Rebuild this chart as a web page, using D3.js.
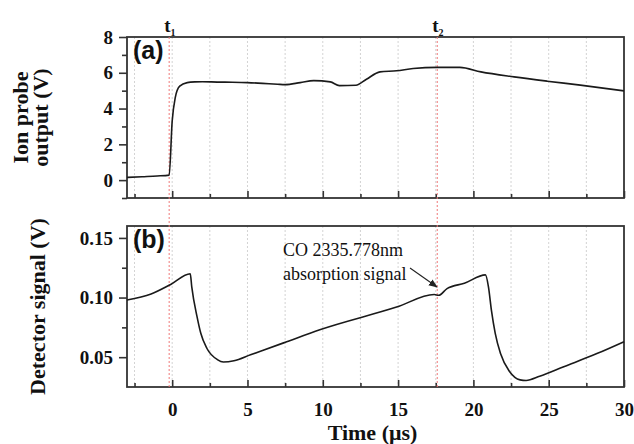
<!DOCTYPE html>
<html>
<head>
<meta charset="utf-8">
<script src="https://cdn.jsdelivr.net/npm/d3@7"></script>
<style>
  html, body { margin: 0; padding: 0; background: #fff; }
  svg { display: block; }
</style>
</head>
<body>
<svg id="chart" width="634" height="444"></svg>
<script>
// ---------- DATA ----------
const timeA = [-3, -2, -1, -0.2, 0, 0.2, 0.5, 1.0, 1.5, 2, 3, 4, 5, 6, 7, 7.5, 8.5, 9.4, 10.5, 11.1, 12.2, 12.9, 13.8, 14.9, 16, 17.6, 19.1, 20.5, 22.7, 24.9, 27.1, 30];
const ionV  = [0.15, 0.19, 0.23, 0.28, 3.3, 4.6, 5.25, 5.45, 5.49, 5.5, 5.48, 5.47, 5.45, 5.41, 5.36, 5.34, 5.45, 5.56, 5.49, 5.28, 5.3, 5.64, 6.05, 6.11, 6.24, 6.30, 6.30, 6.05, 5.77, 5.53, 5.31, 4.99];

const timeB = [-3, -1.4, -0.1, 1.2, 1.3, 1.65, 1.9, 2.3, 3.0, 3.4, 4.1, 5.2, 7.4, 9.8, 14.9, 17.4, 17.7, 18.25, 19.4, 20.8, 21.0, 21.2, 21.45, 21.8, 22.4, 23.1, 23.5, 24.4, 26, 28.2, 30];
const detV  = [0.098, 0.103, 0.111, 0.12, 0.109, 0.084, 0.07, 0.0575, 0.048, 0.046, 0.047, 0.052, 0.062, 0.073, 0.092, 0.1025, 0.1019, 0.1075, 0.112, 0.119, 0.109, 0.089, 0.07, 0.053, 0.038, 0.031, 0.0305, 0.034, 0.042, 0.053, 0.063];

const xTicks = [0, 5, 10, 15, 20, 25, 30];
const xMinorTicks = [-2.5, 2.5, 7.5, 12.5, 17.5, 22.5, 27.5];
const yTicksA = [0, 2, 4, 6, 8];
const yMinorA = [-1, 1, 3, 5, 7];
const yTicksB = [0.05, 0.10, 0.15];
const yMinorB = [0.075, 0.125];
const markerTimes = [-0.2, 17.6];
const markerLabels = ["1", "2"];

// ---------- LAYOUT ----------
const svg = d3.select("#chart");
const L = 127, R = 624;
const topA = 37, botA = 198;
const topB = 226, botB = 387;
const serif = "'Liberation Serif', 'Times New Roman', serif";
const sans = "'Liberation Sans', Arial, sans-serif";
const frameColor = "#333";

const x = d3.scaleLinear().domain([-3, 30]).range([L, R]);
const yA = d3.scaleLinear().domain([-1, 8]).range([botA, topA]);
const yB = d3.scaleLinear().domain([0.025, 0.16]).range([botB, topB]);

function panel(y, top, bot, majorY, minorY, fmt, showXLabels) {
  const g = svg.append("g");
  // grid
  g.selectAll("line.grid").data(xTicks.concat(xMinorTicks).filter(d => d > -3 && d < 30))
    .enter().append("line")
    .attr("x1", d => x(d)).attr("x2", d => x(d))
    .attr("y1", top).attr("y2", bot)
    .attr("stroke", "#c8c8c8").attr("stroke-width", 0.8)
    .attr("stroke-dasharray", "2,2");

  // bottom axis (ticks inward)
  const xa = d3.axisBottom(x).tickValues(xTicks).tickSize(-7).tickPadding(16)
    .tickFormat(showXLabels ? d3.format("d") : () => "");
  const gx = g.append("g").attr("transform", `translate(0,${bot})`).call(xa);
  const xm = d3.axisBottom(x).tickValues(xMinorTicks).tickSize(-4).tickFormat(() => "");
  const gxm = g.append("g").attr("transform", `translate(0,${bot})`).call(xm);

  // left axis (ticks outward)
  const ya = d3.axisLeft(y).tickValues(majorY).tickSize(8).tickPadding(6).tickFormat(fmt);
  const gy = g.append("g").attr("transform", `translate(${L},0)`).call(ya);
  const ym = d3.axisLeft(y).tickValues(minorY).tickSize(5).tickFormat(() => "");
  const gym = g.append("g").attr("transform", `translate(${L},0)`).call(ym);

  [gx, gxm, gy, gym].forEach(a => {
    a.select(".domain").remove();
    a.selectAll(".tick line").attr("stroke", frameColor).attr("stroke-width", 1.6);
    a.selectAll("text").attr("font-family", serif).attr("font-weight", "bold")
      .attr("font-size", 19).attr("fill", "#111");
  });

  // frame
  g.append("rect").attr("x", L).attr("y", top).attr("width", R - L).attr("height", bot - top)
    .attr("fill", "none").attr("stroke", frameColor).attr("stroke-width", 1.8);
  return g;
}

panel(yA, topA, botA, yTicksA, yMinorA, d3.format("d"), false);
panel(yB, topB, botB, yTicksB, yMinorB, d3.format(".2f"), true);

// red markers
svg.selectAll("line.marker").data(markerTimes).enter().append("line")
  .attr("x1", d => x(d)).attr("x2", d => x(d))
  .attr("y1", topA).attr("y2", botB)
  .attr("stroke", "#f07878").attr("stroke-width", 1)
  .attr("stroke-dasharray", "2,2");

markerTimes.forEach((t, i) => {
  const tx = svg.append("text").attr("x", x(t) - 5).attr("y", 32)
    .attr("font-family", serif).attr("font-weight", "bold").attr("font-size", 19).attr("fill", "#111");
  tx.append("tspan").text("t");
  tx.append("tspan").text(markerLabels[i]).attr("font-size", 10).attr("dy", 4);
});

// lines
const lineA = d3.line().x((d, i) => x(timeA[i])).y(d => yA(d)).curve(d3.curveMonotoneX);
svg.append("path").datum(ionV).attr("d", lineA)
  .attr("fill", "none").attr("stroke", "#1a1a1a").attr("stroke-width", 1.6);

const lineB = d3.line().x((d, i) => x(timeB[i])).y(d => yB(d)).curve(d3.curveMonotoneX);
svg.append("path").datum(detV).attr("d", lineB)
  .attr("fill", "none").attr("stroke", "#1a1a1a").attr("stroke-width", 1.6);

// panel labels
svg.append("text").attr("x", 133).attr("y", 59).text("(a)")
  .attr("font-family", sans).attr("font-weight", "bold").attr("font-size", 25).attr("fill", "#111");
svg.append("text").attr("x", 133).attr("y", 248).text("(b)")
  .attr("font-family", sans).attr("font-weight", "bold").attr("font-size", 25).attr("fill", "#111");

// axis titles
const cyA = (topA + botA) / 2, cyB = (topB + botB) / 2;
const yt = svg.append("text").attr("transform", `translate(28,${cyA}) rotate(-90)`)
  .attr("text-anchor", "middle").attr("font-family", serif).attr("font-weight", "bold")
  .attr("font-size", 22).attr("fill", "#111");
yt.append("tspan").attr("x", 0).attr("y", 0).text("Ion probe");
yt.append("tspan").attr("x", 0).attr("y", 20).text("output (V)");

svg.append("text").attr("transform", `translate(45,${cyB}) rotate(-90)`)
  .attr("text-anchor", "middle").attr("font-family", serif).attr("font-weight", "bold")
  .attr("font-size", 22).attr("fill", "#111").text("Detector signal (V)");

svg.append("text").attr("x", (L + R) / 2 - 3).attr("y", 440)
  .attr("text-anchor", "middle").attr("font-family", serif).attr("font-weight", "bold")
  .attr("font-size", 22).attr("fill", "#111").text("Time (μs)");

// annotation
const ann = svg.append("text").attr("font-family", serif).attr("font-size", 18).attr("fill", "#111");
ann.append("tspan").attr("x", 283).attr("y", 256).text("CO 2335.778nm");
ann.append("tspan").attr("x", 283).attr("y", 280).text("absorption signal");

svg.append("defs").append("marker").attr("id", "arr")
  .attr("viewBox", "0 0 10 10").attr("refX", 9).attr("refY", 5)
  .attr("markerWidth", 9).attr("markerHeight", 9).attr("orient", "auto")
  .attr("markerUnits", "userSpaceOnUse")
  .append("path").attr("d", "M0,1 L10,5 L0,9 Z").attr("fill", "#222");
svg.append("line").attr("x1", 410).attr("y1", 268).attr("x2", 437).attr("y2", 287)
  .attr("stroke", "#222").attr("stroke-width", 1.1).attr("marker-end", "url(#arr)");
</script>
</body>
</html>
